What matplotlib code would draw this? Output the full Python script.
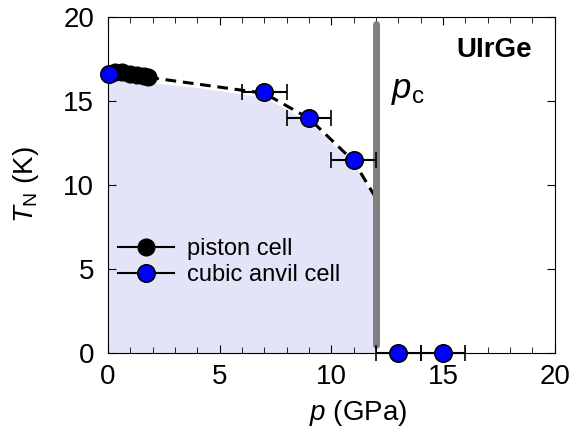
import matplotlib
matplotlib.use('Agg')
import matplotlib.pyplot as plt
from matplotlib.lines import Line2D

plt.rcParams['font.family'] = ['Liberation Sans', 'DejaVu Sans']
plt.rcParams['mathtext.fontset'] = 'custom'
plt.rcParams['mathtext.rm'] = 'Liberation Sans'
plt.rcParams['mathtext.it'] = 'Liberation Sans:italic'
plt.rcParams['mathtext.bf'] = 'Liberation Sans:bold'

# piston cell data
piston_p = [0.3, 0.6, 1.0, 1.3, 1.6, 1.8]
piston_T = [16.7, 16.7, 16.6, 16.55, 16.5, 16.45]

# cubic anvil cell data
cubic_p = [0.05, 7.0, 9.0, 11.0, 13.0, 15.0]
cubic_T = [16.6, 15.5, 14.0, 11.5, 0.0, 0.0]
cubic_perr = [0.0, 1.0, 1.0, 1.0, 1.0, 1.0]

# guide line for T_N(p)
guide_p = [1.8, 4.0, 7.0, 9.0, 11.0, 12.0]
guide_T = [16.4, 16.0, 15.45, 13.95, 11.4, 9.2]

# shaded ordered region
shade_p = [0.0, 1.8, 4.0, 7.0, 9.0, 11.0, 12.0]
shade_T = [16.3, 16.1, 15.8, 15.2, 13.75, 11.25, 9.0]

pc = 12.0

fig = plt.figure(figsize=(5.69, 4.32), dpi=100)
ax = fig.add_axes([0.19, 0.183, 0.785, 0.778])

ax.fill_between(shade_p, 0, shade_T, color='#E4E4F8', lw=0, zorder=0)
ax.plot(guide_p, guide_T, color='black', ls=(0, (3.5, 2.2)), lw=2.2, zorder=2)
ax.plot([pc, pc], [0.45, 19.6], color='#808080', lw=5, solid_capstyle='round', zorder=3)

ax.errorbar(piston_p, piston_T, fmt='o', color='black', mfc='black', mec='black',
            ms=12, lw=1.5, zorder=4)
ax.errorbar(cubic_p, cubic_T, xerr=cubic_perr, fmt='o', color='black', ecolor='black',
            mfc='#0000FF', mec='black', mew=1.2, ms=12.5, elinewidth=1.5, capsize=5.5,
            capthick=1.5, zorder=5, clip_on=False)

ax.set_xlim(0, 20)
ax.set_ylim(0, 20)
ax.set_xticks([0, 5, 10, 15, 20])
ax.set_xticks(range(0, 21), minor=True)
ax.set_yticks([0, 5, 10, 15, 20])
ax.tick_params(which='both', direction='in', top=True, right=True, labelsize=20)
ax.tick_params(axis='y', pad=10)
ax.tick_params(axis='x', pad=8)
ax.tick_params(which='major', length=6)
ax.tick_params(which='minor', length=4)

ax.set_xlabel('$p$ (GPa)', fontsize=20)
ax.xaxis.set_label_coords(0.56, -0.135)
ax.set_ylabel('$T_{\\mathrm{N}}$ (K)', fontsize=20, labelpad=16)

ax.text(12.65, 16.6, '$p_{\\mathrm{c}}$', fontsize=25, va='top', ha='left')
ax.text(19.0, 18.0, 'UIrGe', fontsize=20, fontweight='bold', ha='right', va='center')

handles = [
    Line2D([], [], color='black', lw=1.5, marker='o', ms=12, mfc='black', mec='black'),
    Line2D([], [], color='black', lw=1.5, marker='o', ms=12.5, mfc='#0000FF', mec='black', mew=1.2),
]
ax.legend(handles, ['piston cell', 'cubic anvil cell'], loc='lower left',
          bbox_to_anchor=(0.0, 0.17), frameon=False, fontsize=17,
          handlelength=2.4, handletextpad=0.55, labelspacing=0.18, borderaxespad=0.1,
          borderpad=0.3)

fig.savefig('out.png', dpi=100)
